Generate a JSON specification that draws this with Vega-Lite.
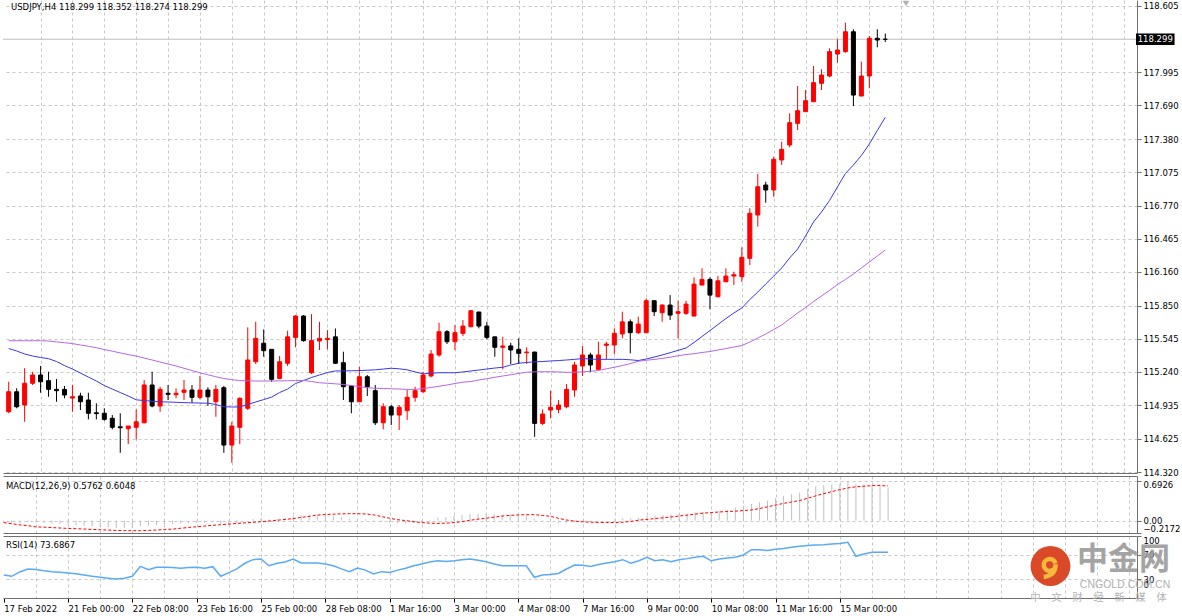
{
"$schema": "https://vega.github.io/schema/vega-lite/v6.json",
"autosize": {"type": "pad"},
"padding": 0,
"bounds": "flush",
"spacing": 3,
"background": "#ffffff",
"config": {
 "view": {"stroke": null},
 "font": "DejaVu Sans",
 "axis": {"labelFont": "DejaVu Sans", "labelFontSize": 8.5, "labelColor": "#000000", "tickColor": "#707070", "domainColor": "#707070", "gridColor": "#c8c8c8", "gridDash": [3, 3], "gridWidth": 1, "labelOverlap": false, "tickCount": 200}
},
"datasets": {"c": [
{"i":0,"o":114.874,"h":115.150,"l":114.860,"c":115.058,"m1":115.456,"m2":115.527,"md":-0.04,"sg":-0.035,"r":37},
{"i":1,"o":115.058,"h":115.090,"l":114.906,"c":114.920,"m1":115.433,"m2":115.527,"md":-0.05,"sg":-0.055,"r":35},
{"i":2,"o":114.936,"h":115.274,"l":114.782,"c":115.136,"m1":115.405,"m2":115.527,"md":-0.04,"sg":-0.075,"r":42},
{"i":3,"o":115.136,"h":115.242,"l":115.120,"c":115.212,"m1":115.387,"m2":115.527,"md":-0.03,"sg":-0.09,"r":46.8},
{"i":4,"o":115.212,"h":115.295,"l":115.049,"c":115.150,"m1":115.373,"m2":115.527,"md":-0.03,"sg":-0.11,"r":46},
{"i":5,"o":115.160,"h":115.242,"l":115.012,"c":115.080,"m1":115.362,"m2":115.524,"md":-0.04,"sg":-0.115,"r":44},
{"i":6,"o":115.080,"h":115.175,"l":114.966,"c":115.068,"m1":115.336,"m2":115.517,"md":-0.05,"sg":-0.122,"r":42.5},
{"i":7,"o":115.080,"h":115.111,"l":114.998,"c":115.028,"m1":115.299,"m2":115.509,"md":-0.06,"sg":-0.13,"r":41.5},
{"i":8,"o":115.000,"h":115.120,"l":114.874,"c":115.012,"m1":115.267,"m2":115.501,"md":-0.07,"sg":-0.137,"r":40.3},
{"i":9,"o":115.019,"h":115.049,"l":114.890,"c":114.966,"m1":115.230,"m2":115.488,"md":-0.08,"sg":-0.142,"r":39},
{"i":10,"o":114.982,"h":115.049,"l":114.804,"c":114.860,"m1":115.193,"m2":115.476,"md":-0.09,"sg":-0.148,"r":37},
{"i":11,"o":114.865,"h":114.952,"l":114.804,"c":114.857,"m1":115.157,"m2":115.463,"md":-0.10,"sg":-0.155,"r":35},
{"i":12,"o":114.860,"h":114.906,"l":114.792,"c":114.804,"m1":115.115,"m2":115.446,"md":-0.11,"sg":-0.16,"r":33.4},
{"i":13,"o":114.814,"h":114.844,"l":114.712,"c":114.731,"m1":115.083,"m2":115.431,"md":-0.12,"sg":-0.166,"r":32},
{"i":14,"o":114.736,"h":114.860,"l":114.497,"c":114.727,"m1":115.051,"m2":115.415,"md":-0.13,"sg":-0.172,"r":30.6},
{"i":15,"o":114.718,"h":114.743,"l":114.577,"c":114.743,"m1":115.019,"m2":115.400,"md":-0.13,"sg":-0.176,"r":32},
{"i":16,"o":114.731,"h":114.896,"l":114.620,"c":114.782,"m1":114.984,"m2":115.386,"md":-0.13,"sg":-0.178,"r":35},
{"i":17,"o":114.773,"h":115.166,"l":114.767,"c":115.120,"m1":114.977,"m2":115.368,"md":-0.10,"sg":-0.176,"r":51},
{"i":18,"o":115.120,"h":115.242,"l":114.915,"c":114.927,"m1":114.970,"m2":115.350,"md":-0.09,"sg":-0.172,"r":45.7},
{"i":19,"o":114.927,"h":115.104,"l":114.874,"c":115.080,"m1":114.965,"m2":115.331,"md":-0.08,"sg":-0.166,"r":49.5},
{"i":20,"o":115.044,"h":115.120,"l":114.982,"c":115.034,"m1":114.964,"m2":115.313,"md":-0.07,"sg":-0.156,"r":49.5},
{"i":21,"o":115.031,"h":115.090,"l":114.998,"c":115.044,"m1":114.961,"m2":115.295,"md":-0.06,"sg":-0.15,"r":49},
{"i":22,"o":115.053,"h":115.166,"l":114.982,"c":115.074,"m1":114.958,"m2":115.274,"md":-0.05,"sg":-0.135,"r":48},
{"i":23,"o":115.074,"h":115.120,"l":114.957,"c":115.007,"m1":114.956,"m2":115.253,"md":-0.05,"sg":-0.12,"r":49},
{"i":24,"o":115.007,"h":115.203,"l":114.988,"c":115.074,"m1":114.954,"m2":115.232,"md":-0.04,"sg":-0.108,"r":49.5},
{"i":25,"o":115.074,"h":115.099,"l":114.927,"c":115.012,"m1":114.953,"m2":115.214,"md":-0.04,"sg":-0.095,"r":48},
{"i":26,"o":114.966,"h":115.120,"l":114.828,"c":115.080,"m1":114.941,"m2":115.196,"md":-0.03,"sg":-0.083,"r":50.5},
{"i":27,"o":115.095,"h":115.111,"l":114.497,"c":114.568,"m1":114.920,"m2":115.180,"md":-0.06,"sg":-0.072,"r":35},
{"i":28,"o":114.568,"h":114.782,"l":114.405,"c":114.743,"m1":114.918,"m2":115.169,"md":-0.07,"sg":-0.062,"r":41},
{"i":29,"o":114.731,"h":115.007,"l":114.577,"c":114.998,"m1":114.918,"m2":115.161,"md":-0.05,"sg":-0.05,"r":47},
{"i":30,"o":114.906,"h":115.650,"l":114.890,"c":115.350,"m1":114.941,"m2":115.158,"md":0.00,"sg":-0.04,"r":56},
{"i":31,"o":115.334,"h":115.701,"l":115.313,"c":115.549,"m1":114.964,"m2":115.157,"md":0.03,"sg":-0.03,"r":61.8},
{"i":32,"o":115.504,"h":115.631,"l":115.380,"c":115.436,"m1":114.986,"m2":115.157,"md":0.04,"sg":-0.02,"r":62.9},
{"i":33,"o":115.448,"h":115.448,"l":115.150,"c":115.172,"m1":115.009,"m2":115.157,"md":0.02,"sg":-0.008,"r":52},
{"i":34,"o":115.181,"h":115.387,"l":115.172,"c":115.334,"m1":115.051,"m2":115.158,"md":0.03,"sg":0.005,"r":56},
{"i":35,"o":115.320,"h":115.619,"l":115.295,"c":115.563,"m1":115.083,"m2":115.159,"md":0.05,"sg":0.02,"r":58},
{"i":36,"o":115.558,"h":115.763,"l":115.467,"c":115.754,"m1":115.134,"m2":115.161,"md":0.08,"sg":0.034,"r":62.9},
{"i":37,"o":115.754,"h":115.763,"l":115.518,"c":115.528,"m1":115.161,"m2":115.163,"md":0.09,"sg":0.055,"r":56.5},
{"i":38,"o":115.233,"h":115.772,"l":115.221,"c":115.528,"m1":115.189,"m2":115.152,"md":0.09,"sg":0.075,"r":56.5},
{"i":39,"o":115.525,"h":115.701,"l":115.442,"c":115.549,"m1":115.212,"m2":115.141,"md":0.10,"sg":0.095,"r":56.5},
{"i":40,"o":115.537,"h":115.625,"l":115.448,"c":115.549,"m1":115.235,"m2":115.136,"md":0.11,"sg":0.105,"r":55},
{"i":41,"o":115.563,"h":115.640,"l":115.313,"c":115.320,"m1":115.249,"m2":115.131,"md":0.09,"sg":0.112,"r":52},
{"i":42,"o":115.325,"h":115.426,"l":114.982,"c":115.104,"m1":115.250,"m2":115.125,"md":0.06,"sg":0.117,"r":47},
{"i":43,"o":115.111,"h":115.120,"l":114.860,"c":114.966,"m1":115.251,"m2":115.115,"md":0.03,"sg":0.12,"r":42.5},
{"i":44,"o":114.966,"h":115.288,"l":114.966,"c":115.196,"m1":115.253,"m2":115.105,"md":0.03,"sg":0.12,"r":48.4},
{"i":45,"o":115.196,"h":115.212,"l":115.019,"c":115.104,"m1":115.256,"m2":115.096,"md":0.02,"sg":0.115,"r":45},
{"i":46,"o":115.068,"h":115.120,"l":114.752,"c":114.773,"m1":115.260,"m2":115.090,"md":-0.01,"sg":0.10,"r":38.7},
{"i":47,"o":114.773,"h":114.952,"l":114.712,"c":114.920,"m1":115.267,"m2":115.088,"md":-0.02,"sg":0.07,"r":42.5},
{"i":48,"o":114.920,"h":114.936,"l":114.752,"c":114.844,"m1":115.274,"m2":115.085,"md":-0.04,"sg":0.04,"r":41},
{"i":49,"o":114.844,"h":114.936,"l":114.706,"c":114.915,"m1":115.269,"m2":115.083,"md":-0.05,"sg":0.015,"r":45},
{"i":50,"o":114.884,"h":115.074,"l":114.798,"c":115.007,"m1":115.260,"m2":115.080,"md":-0.05,"sg":0.0,"r":48},
{"i":51,"o":115.007,"h":115.104,"l":114.966,"c":115.068,"m1":115.240,"m2":115.080,"md":-0.04,"sg":-0.02,"r":52},
{"i":52,"o":115.058,"h":115.242,"l":115.049,"c":115.212,"m1":115.223,"m2":115.087,"md":-0.02,"sg":-0.035,"r":55},
{"i":53,"o":115.203,"h":115.442,"l":115.191,"c":115.405,"m1":115.228,"m2":115.097,"md":0.01,"sg":-0.045,"r":58},
{"i":54,"o":115.396,"h":115.692,"l":115.380,"c":115.610,"m1":115.233,"m2":115.108,"md":0.05,"sg":-0.05,"r":60},
{"i":55,"o":115.610,"h":115.625,"l":115.497,"c":115.518,"m1":115.233,"m2":115.120,"md":0.06,"sg":-0.045,"r":59},
{"i":56,"o":115.518,"h":115.671,"l":115.442,"c":115.601,"m1":115.233,"m2":115.134,"md":0.08,"sg":-0.035,"r":60},
{"i":57,"o":115.595,"h":115.717,"l":115.570,"c":115.662,"m1":115.240,"m2":115.146,"md":0.10,"sg":-0.02,"r":61.5},
{"i":58,"o":115.656,"h":115.809,"l":115.650,"c":115.803,"m1":115.249,"m2":115.152,"md":0.12,"sg":0.005,"r":62.9},
{"i":59,"o":115.791,"h":115.794,"l":115.641,"c":115.662,"m1":115.258,"m2":115.166,"md":0.12,"sg":0.025,"r":61},
{"i":60,"o":115.662,"h":115.701,"l":115.540,"c":115.558,"m1":115.267,"m2":115.178,"md":0.12,"sg":0.04,"r":58.6},
{"i":61,"o":115.563,"h":115.563,"l":115.380,"c":115.467,"m1":115.276,"m2":115.191,"md":0.11,"sg":0.06,"r":54.8},
{"i":62,"o":115.467,"h":115.563,"l":115.264,"c":115.479,"m1":115.283,"m2":115.203,"md":0.10,"sg":0.079,"r":52},
{"i":63,"o":115.479,"h":115.509,"l":115.313,"c":115.442,"m1":115.304,"m2":115.214,"md":0.10,"sg":0.09,"r":52},
{"i":64,"o":115.448,"h":115.549,"l":115.313,"c":115.411,"m1":115.320,"m2":115.226,"md":0.09,"sg":0.098,"r":52},
{"i":65,"o":115.417,"h":115.467,"l":115.313,"c":115.423,"m1":115.327,"m2":115.238,"md":0.09,"sg":0.103,"r":52},
{"i":66,"o":115.423,"h":115.426,"l":114.644,"c":114.767,"m1":115.333,"m2":115.241,"md":0.03,"sg":0.103,"r":33.4},
{"i":67,"o":114.767,"h":114.896,"l":114.752,"c":114.853,"m1":115.336,"m2":115.242,"md":-0.01,"sg":0.09,"r":37},
{"i":68,"o":114.890,"h":115.068,"l":114.814,"c":114.915,"m1":115.341,"m2":115.242,"md":-0.02,"sg":0.074,"r":38},
{"i":69,"o":114.896,"h":114.982,"l":114.860,"c":114.936,"m1":115.345,"m2":115.240,"md":-0.04,"sg":0.04,"r":39.5},
{"i":70,"o":114.920,"h":115.129,"l":114.906,"c":115.080,"m1":115.350,"m2":115.237,"md":-0.04,"sg":0.01,"r":46.8},
{"i":71,"o":115.074,"h":115.334,"l":115.012,"c":115.304,"m1":115.356,"m2":115.237,"md":-0.03,"sg":-0.01,"r":53.2},
{"i":72,"o":115.295,"h":115.478,"l":115.203,"c":115.396,"m1":115.363,"m2":115.241,"md":-0.02,"sg":-0.022,"r":53},
{"i":73,"o":115.396,"h":115.417,"l":115.242,"c":115.304,"m1":115.359,"m2":115.246,"md":-0.02,"sg":-0.028,"r":51},
{"i":74,"o":115.264,"h":115.518,"l":115.258,"c":115.396,"m1":115.356,"m2":115.253,"md":-0.01,"sg":-0.032,"r":54},
{"i":75,"o":115.485,"h":115.518,"l":115.356,"c":115.497,"m1":115.356,"m2":115.269,"md":0.00,"sg":-0.034,"r":56.5},
{"i":76,"o":115.488,"h":115.641,"l":115.405,"c":115.595,"m1":115.356,"m2":115.283,"md":0.02,"sg":-0.034,"r":58.6},
{"i":77,"o":115.589,"h":115.794,"l":115.549,"c":115.701,"m1":115.356,"m2":115.299,"md":0.04,"sg":-0.03,"r":61.8},
{"i":78,"o":115.701,"h":115.723,"l":115.411,"c":115.601,"m1":115.352,"m2":115.317,"md":0.04,"sg":-0.015,"r":56},
{"i":79,"o":115.601,"h":115.748,"l":115.589,"c":115.680,"m1":115.345,"m2":115.338,"md":0.05,"sg":0.008,"r":60},
{"i":80,"o":115.601,"h":115.917,"l":115.601,"c":115.895,"m1":115.359,"m2":115.348,"md":0.08,"sg":0.02,"r":65.6},
{"i":81,"o":115.895,"h":115.901,"l":115.754,"c":115.794,"m1":115.377,"m2":115.355,"md":0.09,"sg":0.035,"r":60},
{"i":82,"o":115.785,"h":115.864,"l":115.701,"c":115.855,"m1":115.396,"m2":115.365,"md":0.10,"sg":0.048,"r":61.8},
{"i":83,"o":115.855,"h":115.947,"l":115.717,"c":115.763,"m1":115.417,"m2":115.375,"md":0.11,"sg":0.062,"r":58.6},
{"i":84,"o":115.779,"h":115.895,"l":115.549,"c":115.794,"m1":115.439,"m2":115.389,"md":0.11,"sg":0.08,"r":61.8},
{"i":85,"o":115.779,"h":115.895,"l":115.763,"c":115.864,"m1":115.460,"m2":115.400,"md":0.12,"sg":0.095,"r":63.5},
{"i":86,"o":115.754,"h":116.110,"l":115.754,"c":116.048,"m1":115.511,"m2":115.408,"md":0.14,"sg":0.112,"r":65.6},
{"i":87,"o":116.039,"h":116.193,"l":116.039,"c":116.091,"m1":115.566,"m2":115.419,"md":0.15,"sg":0.13,"r":67.2},
{"i":88,"o":116.091,"h":116.110,"l":115.816,"c":115.947,"m1":115.621,"m2":115.428,"md":0.15,"sg":0.14,"r":60},
{"i":89,"o":115.932,"h":116.122,"l":115.926,"c":116.078,"m1":115.676,"m2":115.442,"md":0.17,"sg":0.15,"r":63},
{"i":90,"o":116.069,"h":116.193,"l":116.069,"c":116.122,"m1":115.731,"m2":115.455,"md":0.19,"sg":0.158,"r":64.5},
{"i":91,"o":116.122,"h":116.162,"l":116.039,"c":116.134,"m1":115.782,"m2":115.469,"md":0.23,"sg":0.164,"r":65.6},
{"i":92,"o":116.116,"h":116.386,"l":116.069,"c":116.294,"m1":115.828,"m2":115.483,"md":0.26,"sg":0.175,"r":69.4},
{"i":93,"o":116.285,"h":116.745,"l":116.223,"c":116.699,"m1":115.906,"m2":115.515,"md":0.29,"sg":0.185,"r":78},
{"i":94,"o":116.683,"h":117.060,"l":116.576,"c":116.943,"m1":115.975,"m2":115.552,"md":0.32,"sg":0.21,"r":78},
{"i":95,"o":116.959,"h":116.989,"l":116.796,"c":116.913,"m1":116.049,"m2":115.589,"md":0.35,"sg":0.24,"r":76.5},
{"i":96,"o":116.913,"h":117.219,"l":116.851,"c":117.195,"m1":116.122,"m2":115.630,"md":0.39,"sg":0.27,"r":78.5},
{"i":97,"o":117.189,"h":117.357,"l":117.143,"c":117.287,"m1":116.196,"m2":115.672,"md":0.43,"sg":0.30,"r":80},
{"i":98,"o":117.327,"h":117.618,"l":117.306,"c":117.532,"m1":116.288,"m2":115.727,"md":0.46,"sg":0.325,"r":82},
{"i":99,"o":117.526,"h":117.869,"l":117.465,"c":117.642,"m1":116.370,"m2":115.782,"md":0.49,"sg":0.35,"r":83.5},
{"i":100,"o":117.633,"h":117.832,"l":117.633,"c":117.734,"m1":116.490,"m2":115.832,"md":0.55,"sg":0.39,"r":84.5},
{"i":101,"o":117.725,"h":118.053,"l":117.725,"c":117.900,"m1":116.619,"m2":115.888,"md":0.60,"sg":0.432,"r":85.5},
{"i":102,"o":117.894,"h":118.023,"l":117.832,"c":117.970,"m1":116.711,"m2":115.938,"md":0.62,"sg":0.47,"r":86},
{"i":103,"o":117.961,"h":118.216,"l":117.949,"c":118.185,"m1":116.816,"m2":115.989,"md":0.63,"sg":0.505,"r":87},
{"i":104,"o":118.163,"h":118.299,"l":118.083,"c":118.200,"m1":116.941,"m2":116.044,"md":0.64,"sg":0.54,"r":88},
{"i":105,"o":118.185,"h":118.451,"l":118.175,"c":118.368,"m1":117.065,"m2":116.090,"md":0.6926,"sg":0.57,"r":89.8},
{"i":106,"o":118.368,"h":118.391,"l":117.685,"c":117.786,"m1":117.143,"m2":116.140,"md":0.64,"sg":0.59,"r":67.2},
{"i":107,"o":117.777,"h":118.093,"l":117.777,"c":117.961,"m1":117.230,"m2":116.196,"md":0.63,"sg":0.60,"r":71},
{"i":108,"o":117.961,"h":118.329,"l":117.848,"c":118.308,"m1":117.336,"m2":116.251,"md":0.63,"sg":0.61,"r":73.7},
{"i":109,"o":118.308,"h":118.391,"l":118.225,"c":118.292,"m1":117.460,"m2":116.306,"md":0.60,"sg":0.612,"r":73.7},
{"i":110,"o":118.299,"h":118.352,"l":118.274,"c":118.299,"m1":117.581,"m2":116.361,"md":0.5762,"sg":0.6048,"r":73.6867}
]},
"vconcat": [
{
 "width": 1134, "height": 473,
 "layer": [
  {"data": {"values": [{"p": 118.299}]},
   "mark": {"type": "rule", "color": "#c0c0c0", "strokeWidth": 1},
   "encoding": {"y": {"field": "p", "type": "quantitative", "scale": {"domain": [114.311, 118.66], "nice": false, "zero": false},
          "axis": {"title": null, "orient": "right", "values": [114.32, 114.625, 114.935, 115.24, 115.545, 115.85, 116.16, 116.465, 116.77, 117.075, 117.38, 117.69, 117.995, 118.605], "tickCount": 200, "format": ".3f", "grid": true, "tickSize": 4, "labelPadding": 2, "labelOverlap": false, "labelBound": false}}}},
  {"data": {"name": "c"},
   "mark": {"type": "rule", "strokeWidth": 1, "clip": true},
   "encoding": {
    "x": {"field": "i", "type": "quantitative", "scale": {"domain": [-0.087, 140.96], "nice": false, "zero": false},
          "axis": {"title": null, "values": [4,8,12,16,20,24,28,32,36,40,44,48,52,56,60,64,68,72,76,80,84,88,92,96,100,104,108,112,116,120,124,128,132,136,140], "tickCount": 200, "grid": true, "labels": false, "ticks": false, "domain": true}},
    "y": {"field": "l", "type": "quantitative", "scale": {"domain": [114.311, 118.66], "nice": false, "zero": false}},
    "y2": {"field": "h"},
    "color": {"condition": {"test": "datum.c > datum.o", "value": "#ff0000"}, "value": "#000000"}}},
  {"data": {"name": "c"},
   "mark": {"type": "bar", "width": 4, "strokeWidth": 1, "clip": true},
   "encoding": {
    "x": {"field": "i", "type": "quantitative", "scale": {"domain": [-0.087, 140.96], "nice": false, "zero": false}},
    "y": {"field": "o", "type": "quantitative", "scale": {"domain": [114.311, 118.66], "nice": false, "zero": false}},
    "y2": {"field": "c"},
    "fill": {"condition": {"test": "datum.c > datum.o", "value": "#ff0000"}, "value": "#000000"},
    "stroke": {"condition": {"test": "datum.c > datum.o", "value": "#ff0000"}, "value": "#000000"}}},
  {"data": {"name": "c"},
   "mark": {"type": "line", "color": "#3838f0", "strokeWidth": 1, "clip": true},
   "encoding": {
    "x": {"field": "i", "type": "quantitative", "scale": {"domain": [-0.087, 140.96], "nice": false, "zero": false}},
    "y": {"field": "m1", "type": "quantitative", "scale": {"domain": [114.311, 118.66], "nice": false, "zero": false}}}},
  {"data": {"name": "c"},
   "mark": {"type": "line", "color": "#b466e6", "strokeWidth": 1, "clip": true},
   "encoding": {
    "x": {"field": "i", "type": "quantitative", "scale": {"domain": [-0.087, 140.96], "nice": false, "zero": false}},
    "y": {"field": "m2", "type": "quantitative", "scale": {"domain": [114.311, 118.66], "nice": false, "zero": false}}}},
  {"data": {"values": [{"t": "USDJPY,H4  118.299 118.352 118.274 118.299"}]},
   "mark": {"type": "text", "align": "left", "baseline": "middle", "dx": 3, "fontSize": 8.5, "color": "#000000"},
   "encoding": {"x": {"datum": -0.087}, "y": {"datum": 118.596}, "text": {"field": "t"}}},
  {"data": {"values": [{"t": "118.299"}]},
   "mark": {"type": "rect", "color": "#000000"},
   "encoding": {"x": {"datum": 141.46}, "x2": {"datum": 146.3}, "y": {"datum": 118.351}, "y2": {"datum": 118.247}}},
  {"data": {"values": [{"t": "118.299"}]},
   "mark": {"type": "text", "align": "center", "baseline": "middle", "fontSize": 8.5, "color": "#ffffff"},
   "encoding": {"x": {"datum": 143.88}, "y": {"datum": 118.299}, "text": {"field": "t"}}},
  {"data": {"values": [{"t": "shift"}]},
   "mark": {"type": "point", "shape": "triangle-down", "filled": true, "size": 40, "color": "#b0b0b0", "opacity": 1},
   "encoding": {"x": {"datum": 112.6}, "y": {"datum": 118.628}}}
 ]
},
{
 "width": 1134, "height": 57,
 "resolve": {"axis": {"x": "independent"}},
 "layer": [
  {"data": {"name": "c"},
   "mark": {"type": "rule", "color": "#c0c0c0", "strokeWidth": 1},
   "encoding": {
    "x": {"field": "i", "type": "quantitative", "scale": {"domain": [-0.087, 140.96], "nice": false, "zero": false},
          "axis": {"title": null, "values": [4,8,12,16,20,24,28,32,36,40,44,48,52,56,60,64,68,72,76,80,84,88,92,96,100,104,108,112,116,120,124,128,132,136,140], "tickCount": 200, "grid": true, "labels": false, "ticks": false, "domain": true}},
    "y": {"field": "md", "type": "quantitative", "scale": {"domain": [-0.2172, 0.7785], "nice": false, "zero": false},
          "axis": {"title": null, "orient": "right", "values": [-0.2172, 0, 0.6926], "tickCount": 200, "labelExpr": "datum.value == 0 ? '0.00' : format(datum.value, '.4f')", "labelFlush": 5, "grid": true, "tickSize": 4, "labelPadding": 2, "labelOverlap": false, "labelBound": false}},
    "y2": {"datum": 0}}},
  {"data": {"name": "c"},
   "mark": {"type": "line", "color": "#ff0000", "strokeWidth": 1, "strokeDash": [3, 2]},
   "encoding": {
    "x": {"field": "i", "type": "quantitative", "scale": {"domain": [-0.087, 140.96], "nice": false, "zero": false},
          "axis": {"title": null, "orient": "top", "grid": false, "labels": false, "ticks": false, "domain": true}},
    "y": {"field": "sg", "type": "quantitative", "scale": {"domain": [-0.2172, 0.7785], "nice": false, "zero": false}}}},
  {"data": {"values": [{"t": "MACD(12,26,9) 0.5762 0.6048"}]},
   "mark": {"type": "text", "align": "left", "baseline": "middle", "dx": 3, "fontSize": 8.5, "color": "#000000"},
   "encoding": {"x": {"datum": -0.087, "axis": null}, "y": {"datum": 0.609}, "text": {"field": "t"}}}
 ]
},
{
 "width": 1134, "height": 62,
 "resolve": {"axis": {"x": "independent"}},
 "layer": [
  {"data": {"name": "c"},
   "mark": {"type": "line", "color": "#5aaaf5", "strokeWidth": 1.5},
   "encoding": {
    "x": {"field": "i", "type": "quantitative", "scale": {"domain": [-0.087, 140.96], "nice": false, "zero": false},
          "axis": {"title": null, "values": [0,4,8,12,16,20,24,28,32,36,40,44,48,52,56,60,64,68,72,76,80,84,88,92,96,100,104,108,112,116,120,124,128,132,136,140], "tickCount": 200,
                   "labelExpr": "datum.value % 8 == 0 && datum.value <= 104 ? ['17 Feb 2022','21 Feb 00:00','22 Feb 08:00','23 Feb 16:00','25 Feb 00:00','28 Feb 08:00','1 Mar 16:00','3 Mar 00:00','4 Mar 08:00','7 Mar 16:00','9 Mar 00:00','10 Mar 08:00','11 Mar 16:00','15 Mar 00:00'][datum.value / 8] : ''",
                   "labelAlign": "left", "labelBaseline": "top", "labelPadding": 2, "tickSize": 4, "tickColor": "#000000", "labelOverlap": false, "labelBound": false,
                   "tickOpacity": {"condition": {"test": "datum.value % 8 == 0 && datum.value <= 104", "value": 1}, "value": 0},
                   "gridOpacity": {"condition": {"test": "datum.value == 0", "value": 0}, "value": 1},
                   "grid": true, "domain": true}},
    "y": {"field": "r", "type": "quantitative", "scale": {"domain": [0, 100], "nice": false, "zero": false},
          "axis": {"title": null, "orient": "right", "values": [0, 30, 70, 100], "tickCount": 200, "format": "d", "labelFlush": true, "tickSize": 4, "labelPadding": 2, "grid": true, "labelOverlap": false, "labelBound": false,
                   "gridOpacity": {"condition": {"test": "datum.value == 30 || datum.value == 70", "value": 1}, "value": 0},
                   "labelOffset": {"condition": {"test": "datum.value == 0", "value": -9}, "value": 0}}}}},
  {"data": {"values": [{"t": "RSI(14) 73.6867"}]},
   "mark": {"type": "text", "align": "left", "baseline": "middle", "dx": 3, "fontSize": 8.5, "color": "#000000"},
   "encoding": {"x": {"datum": -0.087, "axis": {"title": null, "orient": "top", "grid": false, "labels": false, "ticks": false, "domain": true}}, "y": {"datum": 85.5}, "text": {"field": "t"}}},
  {"data": {"values": [{"t": "logo"}]},
   "mark": {"type": "point", "shape": "circle", "filled": true, "size": 1590, "color": "#d8401e", "opacity": 0.95},
   "encoding": {"x": {"datum": 130.2, "axis": null}, "y": {"datum": 51.6}}},
  {"data": {"values": [{"t": "logo"}]},
   "mark": {"type": "point", "shape": "M0.45,-0.2 A0.45,0.45 0 1 1 0.44,-0.26 M0.45,-0.2 Q0.45,0.65 -0.45,0.75", "filled": false, "size": 700, "stroke": "#f6b93b", "strokeWidth": 4.5, "opacity": 1},
   "encoding": {"x": {"datum": 130.1, "axis": null}, "y": {"datum": 50}}},
  {"data": {"values": [{"t": "中金网"}]},
   "mark": {"type": "text", "align": "center", "baseline": "middle", "font": "Noto Sans CJK SC", "fontWeight": "bold", "fontSize": 31, "color": "#9b9b9b", "opacity": 0.9},
   "encoding": {"x": {"datum": 139.28, "axis": null}, "y": {"datum": 60.5}, "text": {"field": "t"}}},
  {"data": {"values": [{"t": "CNGOLD.COM.CN"}]},
   "mark": {"type": "text", "align": "center", "baseline": "middle", "font": "Liberation Sans", "fontSize": 10.5, "color": "#b0b0b0"},
   "encoding": {"x": {"datum": 139.47, "axis": null}, "y": {"datum": 21}, "text": {"field": "t"}}},
  {"data": {"values": [{"t": "中　文　财　经　新　媒　体"}]},
   "mark": {"type": "text", "align": "center", "baseline": "middle", "font": "Noto Sans CJK SC", "fontSize": 10.5, "color": "#b4b4b4"},
   "encoding": {"x": {"datum": 136.17, "axis": null}, "y": {"datum": 0}, "text": {"field": "t"}}}
 ]
}
]
}
